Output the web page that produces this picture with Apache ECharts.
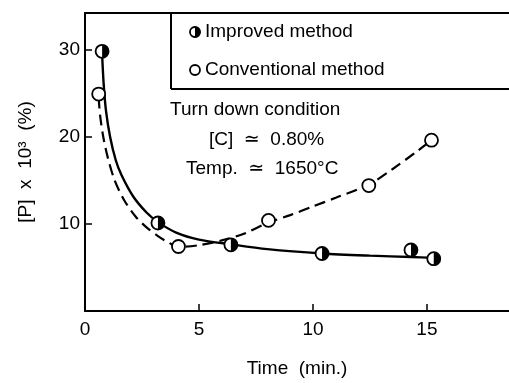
<!DOCTYPE html>
<html><head><meta charset="utf-8">
<script src="https://cdn.jsdelivr.net/npm/echarts@6/dist/echarts.min.js"></script>
<style>html,body{margin:0;padding:0;background:#fff}#c{width:509px;height:383px}</style>
</head><body><div id="c"></div>
<script>
// Data
const improvedX = [0.75, 3.2, 6.4, 10.4, 14.3, 15.3];
const improvedY = [29.8, 10.1, 7.6, 6.6, 7.0, 6.0];
const conventionalX = [0.6, 4.1, 8.05, 12.45, 15.2];
const conventionalY = [24.9, 7.4, 10.4, 14.4, 19.6];
// Hand-drawn fitted curves
const improvedCurveX = [0.75, 0.82, 0.92, 1.1, 1.35, 1.6, 2.1, 2.7, 3.2, 4.0, 5.0, 6.4, 8.0, 10.4, 12.5, 14.3, 15.3];
const improvedCurveY = [29.5, 26, 23, 20, 17.3, 15.6, 13.2, 11.3, 10.2, 9.0, 8.2, 7.65, 7.1, 6.6, 6.35, 6.2, 6.1];
const conventionalCurveX = [0.6, 0.66, 0.8, 1.0, 1.3, 1.7, 2.2, 2.7, 3.2, 3.7, 4.1, 5.0, 6.0, 7.0, 8.0, 9.0, 10.0, 11.0, 12.45, 13.5, 14.5, 15.2];
const conventionalCurveY = [24.5, 22.5, 20, 17.6, 15.0, 12.8, 10.9, 9.6, 8.6, 7.8, 7.35, 7.55, 8.1, 8.9, 10.1, 11.0, 12.0, 13.0, 14.5, 16.3, 18.2, 19.6];
const xTicks = [0, 5, 10, 15];
const yTicks = [10, 20, 30];
const seriesNames = ['Improved method', 'Conventional method'];
const notes = ['Turn down condition', '[C]  \u2243  0.80%', 'Temp.  \u2243  1650\u00b0C'];

const zip = (a, b) => a.map((v, i) => [v, b[i]]);
const FONT = '"Liberation Sans", Arial, "DejaVu Sans", sans-serif';
const FS = 19;
const halfDisc = 'path://M0,0 A10,10 0 0 1 0,20 Z';
const SYM = 13;

const chart = echarts.init(document.getElementById('c'));
chart.setOption({
  animation: false,
  backgroundColor: '#fff',
  grid: { left: 85, right: 0, top: 13, bottom: 71 },
  xAxis: [{
    type: 'value', min: 0, max: 18.6, interval: 5,
    axisLine: { lineStyle: { color: '#000', width: 2 } },
    axisTick: { inside: true, length: 7, lineStyle: { color: '#000', width: 1.5 } },
    splitLine: { show: false },
    axisLabel: { color: '#000', fontSize: FS, fontFamily: FONT, margin: 9, showMaxLabel: false,
      formatter: v => xTicks.includes(v) ? String(v) : '' },
    name: 'Time  (min.)', nameLocation: 'middle', nameGap: 48,
    nameTextStyle: { color: '#000', fontSize: FS, fontFamily: FONT }
  }, {
    type: 'value', position: 'top', min: 0, max: 18.6,
    axisLine: { show: true, lineStyle: { color: '#000', width: 2 } },
    axisTick: { show: false }, axisLabel: { show: false }, splitLine: { show: false }
  }],
  yAxis: {
    type: 'value', min: 0, max: 34.2, interval: 10,
    axisLine: { show: true, lineStyle: { color: '#000', width: 2 } },
    axisTick: { show: true, inside: true, length: 7, lineStyle: { color: '#000', width: 1.5 } },
    splitLine: { show: false },
    axisLabel: { color: '#000', fontSize: FS, fontFamily: FONT, margin: 5,
      formatter: v => yTicks.includes(v) ? String(v) : '' },
    name: '[P]  x  10\u00b3  (%)', nameLocation: 'middle', nameGap: 50, nameRotate: 90,
    nameTextStyle: { color: '#000', fontSize: FS, fontFamily: FONT }
  },
  series: [
    { type: 'line', data: zip(improvedCurveX, improvedCurveY), smooth: 0.3, showSymbol: false,
      lineStyle: { color: '#000', width: 2.4 }, z: 2, silent: true },
    { type: 'line', data: zip(conventionalCurveX, conventionalCurveY), smooth: 0.3, showSymbol: false,
      lineStyle: { color: '#000', width: 2.2, type: [11, 6] }, z: 2, silent: true },
    { name: seriesNames[1], type: 'scatter', data: zip(conventionalX, conventionalY), symbol: 'circle', symbolSize: SYM,
      itemStyle: { color: '#fff', borderColor: '#000', borderWidth: 1.8, opacity: 1 }, z: 3 },
    { name: seriesNames[0], type: 'scatter', data: zip(improvedX, improvedY), symbol: 'circle', symbolSize: SYM,
      itemStyle: { color: '#fff', borderColor: '#000', borderWidth: 1.8, opacity: 1 }, z: 3 },
    { type: 'scatter', data: zip(improvedX, improvedY), symbol: halfDisc, symbolSize: SYM, symbolKeepAspect: true,
      symbolOffset: [SYM / 4, 0], itemStyle: { color: '#000', opacity: 1 }, z: 4 }
  ],
  graphic: [
    { type: 'line', shape: { x1: 171, y1: 13, x2: 171, y2: 89 }, style: { stroke: '#000', lineWidth: 2 } },
    { type: 'line', shape: { x1: 171, y1: 89, x2: 509, y2: 89 }, style: { stroke: '#000', lineWidth: 2 } },
    { type: 'circle', shape: { cx: 195, cy: 32, r: 5 }, style: { fill: '#fff', stroke: '#000', lineWidth: 1.8 } },
    { type: 'sector', shape: { cx: 195, cy: 32, r: 5.6, startAngle: -Math.PI / 2, endAngle: Math.PI / 2 }, style: { fill: '#000' } },
    { type: 'circle', shape: { cx: 195, cy: 70, r: 5 }, style: { fill: '#fff', stroke: '#000', lineWidth: 1.8 } },
    { type: 'text', x: 205, y: 32, style: { text: seriesNames[0], fill: '#000', font: FS + 'px ' + FONT, textVerticalAlign: 'middle' } },
    { type: 'text', x: 205, y: 70, style: { text: seriesNames[1], fill: '#000', font: FS + 'px ' + FONT, textVerticalAlign: 'middle' } },
    { type: 'text', x: 170, y: 110, style: { text: notes[0], fill: '#000', font: FS + 'px ' + FONT, textVerticalAlign: 'middle' } },
    { type: 'text', x: 209, y: 140, style: { text: notes[1], fill: '#000', font: FS + 'px ' + FONT, textVerticalAlign: 'middle' } },
    { type: 'text', x: 186, y: 169, style: { text: notes[2], fill: '#000', font: FS + 'px ' + FONT, textVerticalAlign: 'middle' } }
  ]
});
</script></body></html>
